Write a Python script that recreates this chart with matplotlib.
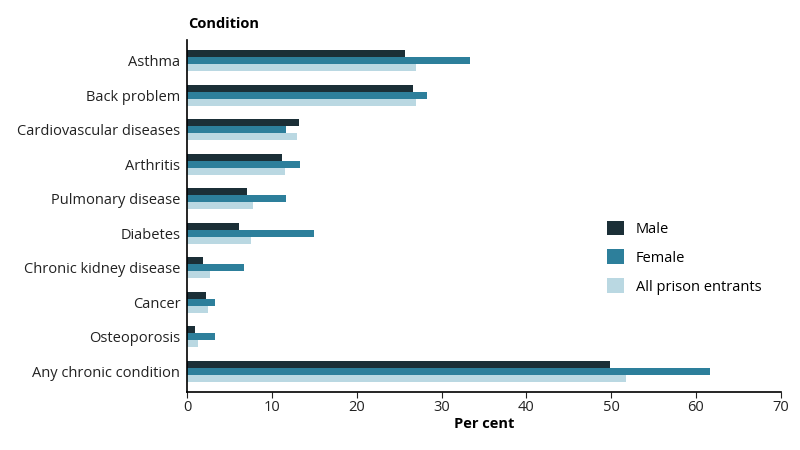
import matplotlib.pyplot as plt
import numpy as np

plt.rcParams['font.family'] = ['Open Sans', 'DejaVu Sans']

conditions = ["Asthma", "Back problem", "Cardiovascular diseases", "Arthritis",
              "Pulmonary disease", "Diabetes", "Chronic kidney disease", "Cancer",
              "Osteoporosis", "Any chronic condition"]
male = [25.7, 26.6, 13.2, 11.2, 7.1, 6.1, 1.9, 2.2, 0.9, 49.8]
female = [33.3, 28.3, 11.7, 13.3, 11.7, 15.0, 6.7, 3.3, 3.3, 61.6]
all_entrants = [27.0, 27.0, 13.0, 11.5, 7.8, 7.5, 2.7, 2.5, 1.3, 51.7]

colors = ["#1b2f37", "#2d7f9b", "#bad8e2"]
labels = ["Male", "Female", "All prison entrants"]

fig = plt.figure(figsize=(8, 4.5), dpi=100)
ax = fig.add_axes([0.234, 0.129, 0.742, 0.782])

y = np.arange(len(conditions))
h = 0.2
for i, (vals, c, lab) in enumerate(zip([male, female, all_entrants], colors, labels)):
    ax.barh(y + (i - 1) * h, vals, height=h, color=c, label=lab)

ax.set_yticks(y)
ax.set_yticklabels(conditions, fontsize=10.5, color="#222222")
ax.set_ylim(len(conditions) - 0.4, -0.6)
ax.set_xlim(0, 70)
ax.set_xticks(range(0, 71, 10))
ax.tick_params(axis='x', labelsize=10.5, length=4, pad=2, colors="#222222")
ax.tick_params(axis='y', length=0, pad=5)
for s in ["top", "right"]:
    ax.spines[s].set_visible(False)
ax.spines["left"].set_linewidth(1.2)
ax.spines["bottom"].set_linewidth(1.2)

ax.set_xlabel("Per cent", fontsize=10.5, fontweight="bold", labelpad=1)
fig.text(0.235, 0.947, "Condition", fontsize=10.5, fontweight="bold", va="center")

leg = ax.legend(loc="center left", bbox_to_anchor=(0.685, 0.382), frameon=False,
                fontsize=10.5, handlelength=1.2, handleheight=1.2, handletextpad=0.8,
                labelspacing=0.85)

plt.savefig("out.png", dpi=100)
